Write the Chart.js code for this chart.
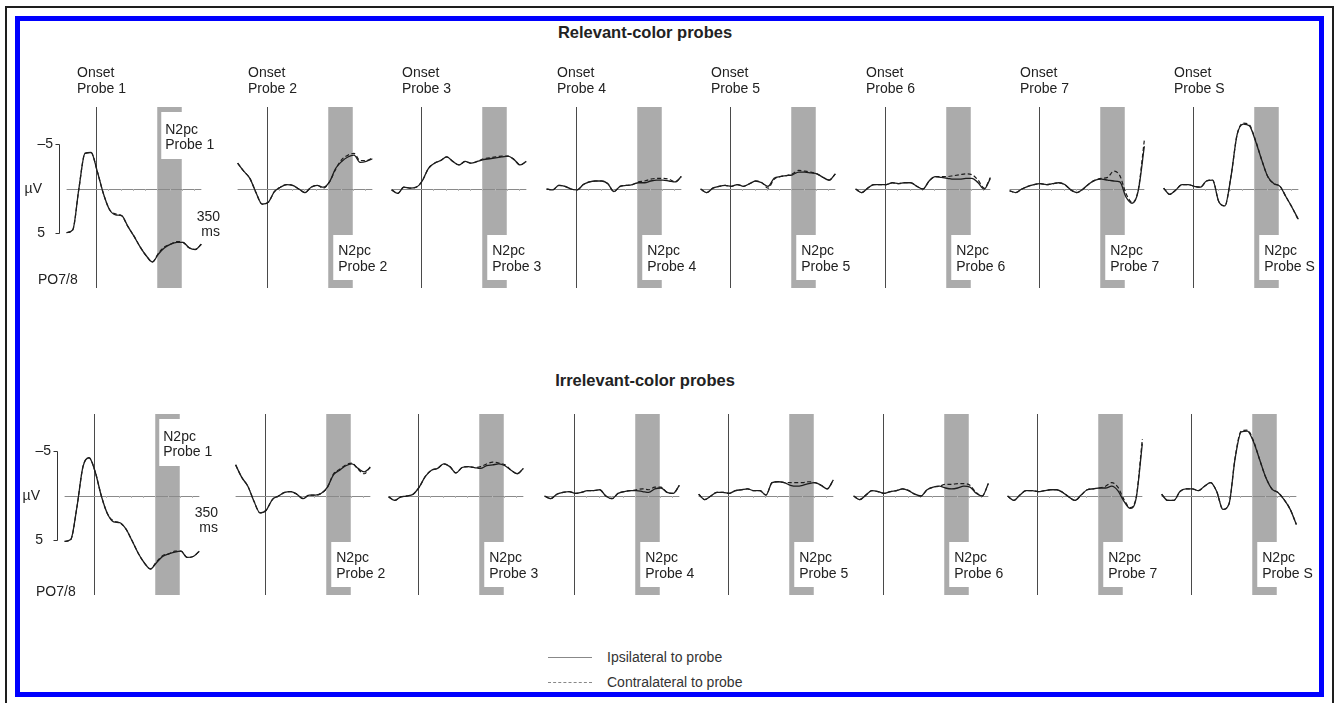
<!DOCTYPE html>
<html>
<head>
<meta charset="utf-8">
<script src="https://cdn.jsdelivr.net/npm/chart.js@4.4.1/dist/chart.umd.min.js"></script>
<style>
  html, body { margin:0; padding:0; background:#fff; width:1334px; height:703px; overflow:hidden;
    font-family:"Liberation Sans", Arial, sans-serif; color:#222; }
  .frame-outer { position:absolute; left:5px; top:6px; width:1329px; height:730px; border:2px solid #1e1e1e; box-sizing:border-box; z-index:5; pointer-events:none; }
  .frame-blue { position:absolute; left:15px; top:16px; width:1309px; height:681px; border:5px solid #0000ff; box-sizing:border-box; z-index:5; pointer-events:none; }
  .title { position:absolute; left:0; width:1290px; text-align:center; font-weight:bold; font-size:16.5px; line-height:20px; }
  canvas { position:absolute; z-index:1; }
  .leg-line { position:absolute; left:548px; width:44px; height:0; border-top:1px solid #888; }
  .leg-text { position:absolute; left:607px; font-size:14px; line-height:18px; color:#333; }
</style>
</head>
<body>
<div class="frame-outer"></div>
<div class="frame-blue"></div>
<div class="title" style="top:22px">Relevant-color probes</div>
<div class="title" style="top:370px">Irrelevant-color probes</div>
<div class="leg-line" style="top:657px"></div>
<div class="leg-text" style="top:648px">Ipsilateral to probe</div>
<div class="leg-line" style="top:682px; border-top-style:dashed"></div>
<div class="leg-text" style="top:673px">Contralateral to probe</div>

<script>
// time points (ms from probe onset) shared by every panel
const TIMES = [-120, -95, -70, -45, -20, 5, 30, 55, 80, 105, 130, 155, 180, 205, 230, 255, 280, 305, 330, 355, 380, 405, 430];
const PROBES = ['1', '2', '3', '4', '5', '6', '7', 'S'];
const N2PC_WINDOW = [250, 350];

// µV, negative up. one row per probe panel
const relevantIpsi = [
  [4.9, 4.6, 0.0, -4.0, -4.1, -2.0, 0.5, 2.3, 2.9, 3.0, 4.2, 5.3, 6.5, 7.5, 8.2, 7.3, 6.6, 6.2, 6.0, 6.0, 6.6, 6.8, 6.2],
  [-2.9, -2.0, -1.2, 0.4, 1.7, 1.5, 0.3, -0.2, -0.5, -0.4, 0.0, 0.4, -0.2, -0.4, -0.2, -0.8, -2.3, -3.1, -3.6, -3.8, -3.0, -3.1, -3.4],
  [0.1, 0.5, -0.2, -0.1, -0.2, -0.9, -2.3, -2.9, -3.2, -3.6, -3.1, -2.7, -3.1, -2.9, -3.1, -3.3, -3.4, -3.5, -3.6, -3.7, -3.3, -2.7, -3.1],
  [0.0, 0.1, -0.4, -0.3, 0.0, 0.1, -0.5, -0.8, -0.9, -0.9, -0.6, 0.3, -0.3, -0.4, -0.5, -0.7, -0.7, -0.9, -1.0, -1.0, -0.9, -0.8, -1.4],
  [0.0, 0.4, -0.1, -0.3, -0.4, -0.3, -0.5, -0.3, -0.6, -0.9, -0.7, -0.3, -1.2, -1.4, -1.5, -1.6, -1.9, -1.9, -1.8, -1.7, -1.3, -1.0, -1.7],
  [0.0, 0.4, -0.1, -0.5, -0.5, -0.5, -0.7, -0.6, -0.7, -0.7, -0.3, 0.0, -0.9, -1.4, -1.3, -1.2, -1.1, -1.1, -1.2, -1.2, -0.7, 0.0, -1.2],
  [0.2, 0.4, 0.0, -0.3, -0.5, -0.6, -0.5, -0.6, -0.7, -0.5, 0.1, 0.4, 0.0, -0.6, -1.0, -1.1, -1.0, -0.9, -0.8, 0.9, 1.6, 0.2, -4.8],
  [-0.1, 0.6, 0.1, -0.5, -0.5, -0.3, -0.2, -0.9, -1.0, 1.4, 1.9, -1.4, -6.1, -7.3, -7.1, -5.4, -3.3, -1.4, -0.6, -0.3, 0.9, 2.1, 3.4]
];
const relevantContra = [
  [4.9, 4.6, 0.0, -4.0, -4.1, -2.0, 0.5, 2.3, 2.8, 3.0, 4.2, 5.3, 6.5, 7.5, 8.2, 7.2, 6.5, 6.2, 5.9, 6.0, 6.6, 6.8, 6.2],
  [-2.9, -2.0, -1.2, 0.4, 1.7, 1.5, 0.3, -0.2, -0.5, -0.4, 0.0, 0.4, -0.2, -0.4, -0.1, -0.8, -2.2, -3.3, -3.8, -4.0, -3.2, -3.2, -3.5],
  [0.1, 0.5, -0.2, -0.1, -0.2, -0.9, -2.3, -2.9, -3.2, -3.6, -3.1, -2.7, -3.1, -2.9, -3.1, -3.4, -3.5, -3.6, -3.7, -3.7, -3.3, -2.7, -3.1],
  [0.0, 0.1, -0.4, -0.3, 0.0, 0.1, -0.5, -0.8, -0.9, -0.9, -0.6, 0.3, -0.3, -0.4, -0.5, -0.8, -0.9, -1.1, -1.2, -1.2, -1.1, -0.8, -1.4],
  [0.0, 0.4, -0.1, -0.3, -0.4, -0.3, -0.5, -0.3, -0.6, -0.9, -0.7, -0.1, -1.1, -1.4, -1.5, -1.7, -2.1, -2.0, -1.9, -1.7, -1.3, -1.0, -1.7],
  [0.0, 0.4, -0.1, -0.5, -0.5, -0.5, -0.7, -0.6, -0.7, -0.7, -0.3, 0.0, -0.9, -1.4, -1.4, -1.4, -1.5, -1.6, -1.7, -1.6, -1.0, -0.1, -1.3],
  [0.2, 0.4, 0.0, -0.3, -0.5, -0.6, -0.5, -0.6, -0.7, -0.5, 0.1, 0.4, 0.0, -0.6, -1.0, -1.2, -1.3, -2.0, -1.5, 0.5, 1.5, 0.1, -5.5],
  [-0.1, 0.6, 0.1, -0.5, -0.5, -0.3, -0.2, -0.9, -1.0, 1.4, 1.9, -1.4, -6.1, -7.4, -7.2, -5.5, -3.3, -1.4, -0.6, -0.3, 0.9, 2.1, 3.5]
];
const irrelevantIpsi = [
  [5.1, 4.9, 1.3, -3.3, -4.3, -2.7, 0.0, 2.0, 2.9, 3.0, 3.7, 5.0, 6.4, 7.5, 8.2, 7.5, 6.8, 6.5, 6.3, 6.2, 6.9, 6.8, 6.2],
  [-3.5, -2.1, -1.1, 0.6, 1.9, 1.6, 0.4, 0.0, -0.4, -0.5, -0.2, 0.3, -0.1, -0.1, -0.3, -1.0, -2.4, -2.9, -3.4, -3.6, -3.1, -2.7, -3.2],
  [0.1, 0.5, 0.1, 0.0, -0.2, -1.0, -2.2, -2.9, -3.1, -3.6, -3.3, -2.6, -3.2, -3.3, -3.2, -3.1, -3.4, -3.5, -3.6, -3.4, -2.9, -2.5, -3.1],
  [0.0, 0.3, -0.2, -0.4, -0.5, -0.3, -0.4, -0.6, -0.6, -0.7, 0.0, 0.3, -0.3, -0.5, -0.6, -0.6, -0.5, -0.4, -0.8, -0.9, -0.4, -0.3, -1.2],
  [-0.2, 0.4, 0.0, -0.4, -0.4, -0.3, -0.6, -0.7, -0.8, -0.6, -0.6, -0.1, -1.5, -1.6, -1.5, -1.2, -1.1, -1.2, -1.4, -1.5, -1.2, -0.8, -1.8],
  [0.0, 0.4, -0.1, -0.6, -0.5, -0.3, -0.5, -0.6, -0.8, -0.6, -0.2, 0.0, -0.7, -1.0, -1.1, -0.9, -0.8, -0.9, -1.1, -1.0, -0.3, 0.0, -1.4],
  [0.0, 0.5, -0.1, -0.6, -0.6, -0.5, -0.6, -0.7, -0.7, -0.4, 0.1, 0.5, -0.1, -0.7, -0.8, -0.9, -0.9, -1.1, -0.6, 0.6, 1.4, 0.2, -5.9],
  [-0.2, 0.5, 0.5, -0.5, -0.8, -0.8, -0.6, -1.1, -1.5, -0.5, 1.5, 0.9, -4.2, -7.2, -7.3, -6.1, -4.1, -2.1, -0.8, -0.4, 0.4, 1.5, 3.2]
];
const irrelevantContra = [
  [5.1, 4.9, 1.3, -3.3, -4.3, -2.7, 0.0, 2.0, 2.8, 3.0, 3.7, 5.0, 6.4, 7.5, 8.2, 7.4, 6.7, 6.5, 6.2, 6.2, 6.9, 6.8, 6.2],
  [-3.5, -2.1, -1.1, 0.6, 1.9, 1.6, 0.4, 0.0, -0.4, -0.5, -0.2, 0.3, -0.1, -0.1, -0.3, -1.0, -2.5, -3.0, -3.5, -3.7, -3.0, -2.5, -3.3],
  [0.1, 0.5, 0.1, 0.0, -0.2, -1.0, -2.2, -2.9, -3.1, -3.6, -3.3, -2.6, -3.2, -3.3, -3.2, -3.3, -3.6, -3.8, -3.7, -3.5, -2.9, -2.5, -3.1],
  [0.0, 0.3, -0.2, -0.4, -0.5, -0.3, -0.4, -0.6, -0.6, -0.7, 0.0, 0.3, -0.3, -0.5, -0.6, -0.7, -0.8, -0.7, -1.0, -1.0, -0.4, -0.3, -1.2],
  [-0.2, 0.4, 0.0, -0.4, -0.4, -0.3, -0.6, -0.7, -0.8, -0.6, -0.6, -0.1, -1.5, -1.6, -1.5, -1.5, -1.5, -1.5, -1.6, -1.5, -1.2, -0.8, -1.8],
  [0.0, 0.4, -0.1, -0.6, -0.5, -0.3, -0.5, -0.6, -0.8, -0.6, -0.2, 0.0, -0.7, -1.0, -1.1, -1.3, -1.3, -1.4, -1.4, -1.2, -0.4, 0.0, -1.4],
  [0.0, 0.5, -0.1, -0.6, -0.6, -0.5, -0.6, -0.7, -0.7, -0.4, 0.1, 0.5, -0.1, -0.7, -0.8, -0.9, -1.1, -1.5, -1.0, 0.4, 1.3, 0.1, -6.4],
  [-0.2, 0.5, 0.5, -0.5, -0.8, -0.8, -0.6, -1.1, -1.5, -0.5, 1.5, 0.9, -4.3, -7.3, -7.4, -6.2, -4.1, -2.1, -0.8, -0.4, 0.4, 1.5, 3.2]
];

// layout of the panel grid (px)
const ROWS = [
  { ipsi: relevantIpsi, contra: relevantContra, base: 189, onsets: [96, 267, 421, 576, 730, 885, 1039, 1193], showOnset: true, msDy: [28, 43], poDy: 91 },
  { ipsi: irrelevantIpsi, contra: irrelevantContra, base: 496, onsets: [94, 265, 418, 574, 728, 883, 1037, 1191], showOnset: false, msDy: [17, 32], poDy: 96 }
];
const PX_PER_MS = 0.245, PX_PER_UV = 8.9;
const T_MIN = -120, T_MAX = 430, V_MIN = -13, V_MAX = 11;
const PAD_L = 80, CANVAS_W = 212, PAD_T = 135, CANVAS_H = 240;
const FONT = '14px "Liberation Sans", Arial, sans-serif';

const panelDecor = {
  id: 'panelDecor',
  beforeDatasetsDraw(chart, args, o) {
    const {ctx, scales: {x, y}} = chart;
    const base = y.getPixelForValue(0);
    const x0 = x.getPixelForValue(0);
    const top = base - 82, bottom = base + 99;
    const gx0 = x.getPixelForValue(N2PC_WINDOW[0]), gx1 = x.getPixelForValue(N2PC_WINDOW[1]);
    ctx.save();
    ctx.fillStyle = '#ababab';
    ctx.fillRect(gx0, top, gx1 - gx0, bottom - top);
    ctx.fillStyle = '#fff';
    if (o.first) ctx.fillRect(gx0 + 4, base - 77, 70, 47);
    else ctx.fillRect(gx0 + 5, base + 46, 70, 45);

    // onset line
    ctx.strokeStyle = '#4a4a4a';
    ctx.lineWidth = 1;
    ctx.beginPath();
    ctx.moveTo(Math.round(x0) + 0.5, top);
    ctx.lineTo(Math.round(x0) + 0.5, bottom);
    ctx.stroke();

    // zero line with faint 50 ms ticks
    ctx.strokeStyle = '#8a8a8a';
    ctx.beginPath();
    ctx.moveTo(x.getPixelForValue(T_MIN), Math.round(base) + 0.5);
    ctx.lineTo(x.getPixelForValue(T_MAX), Math.round(base) + 0.5);
    ctx.stroke();
    ctx.strokeStyle = '#b5b5b5';
    ctx.beginPath();
    for (let t = 50; t <= 400; t += 50) {
      const px = Math.round(x.getPixelForValue(t)) + 0.5;
      ctx.moveTo(px, base);
      ctx.lineTo(px, base + 2);
    }
    ctx.stroke();
    ctx.restore();
  },
  afterDatasetsDraw(chart, args, o) {
    const {ctx, scales: {x, y}} = chart;
    const base = y.getPixelForValue(0);
    const x0 = x.getPixelForValue(0);
    const gx0 = x.getPixelForValue(N2PC_WINDOW[0]);
    ctx.save();
    ctx.font = FONT;
    ctx.fillStyle = '#222';
    ctx.textBaseline = 'middle';
    ctx.textAlign = 'left';
    if (o.showOnset) {
      ctx.fillText('Onset', x0 - 19, base - 116);
      ctx.fillText('Probe ' + o.probe, x0 - 19, base - 100);
    }
    if (o.first) {
      ctx.fillText('N2pc', gx0 + 8, base - 59);
      ctx.fillText('Probe ' + o.probe, gx0 + 8, base - 44);

      // µV scale bracket
      const bx = Math.round(x0 - 37) + 0.5;
      const yA = y.getPixelForValue(-5), yB = y.getPixelForValue(5);
      ctx.strokeStyle = '#333';
      ctx.lineWidth = 1;
      ctx.beginPath();
      ctx.moveTo(bx - 4, yA); ctx.lineTo(bx, yA); ctx.lineTo(bx, yB); ctx.lineTo(bx - 4, yB);
      ctx.stroke();
      ctx.textAlign = 'right';
      ctx.fillText('\u20135', x0 - 43, yA);
      ctx.fillText('\u00b5V', x0 - 54, base);
      ctx.fillText('5', x0 - 51, yB);
      ctx.fillText('350', x0 + 124, base + o.msDy[0]);
      ctx.fillText('ms', x0 + 124, base + o.msDy[1]);
      ctx.textAlign = 'left';
      ctx.fillText('PO7/8', x0 - 58, base + o.poDy);
    } else {
      ctx.fillText('N2pc', gx0 + 10, base + 62.5);
      ctx.fillText('Probe ' + o.probe, gx0 + 10, base + 78.5);
    }
    ctx.restore();
  }
};

function toPoints(vals) {
  return TIMES.map((t, i) => ({x: t, y: vals[i]}));
}

ROWS.forEach((row) => {
  row.onsets.forEach((onsetX, i) => {
    const canvas = document.createElement('canvas');
    canvas.width = CANVAS_W;
    canvas.height = CANVAS_H;
    canvas.style.width = CANVAS_W + 'px';
    canvas.style.height = CANVAS_H + 'px';
    canvas.style.left = (onsetX - PAD_L) + 'px';
    canvas.style.top = (row.base - PAD_T) + 'px';
    document.body.appendChild(canvas);

    new Chart(canvas, {
      type: 'line',
      data: {
        datasets: [
          { label: 'Ipsilateral to probe', data: toPoints(row.ipsi[i]), borderColor: '#1c1c1c', borderWidth: 1.3,
            pointRadius: 0, cubicInterpolationMode: 'monotone', clip: false },
          { label: 'Contralateral to probe', data: toPoints(row.contra[i]), borderColor: '#1c1c1c', borderWidth: 1.2,
            borderDash: [4, 2.5], pointRadius: 0, cubicInterpolationMode: 'monotone', clip: false }
        ]
      },
      options: {
        responsive: false,
        animation: false,
        devicePixelRatio: 1,
        events: [],
        layout: {
          padding: {
            left: PAD_L + T_MIN * PX_PER_MS,
            right: CANVAS_W - PAD_L - T_MAX * PX_PER_MS,
            top: PAD_T + V_MIN * PX_PER_UV,
            bottom: CANVAS_H - PAD_T - V_MAX * PX_PER_UV
          }
        },
        scales: {
          x: { type: 'linear', min: T_MIN, max: T_MAX, display: false },
          y: { min: V_MIN, max: V_MAX, reverse: true, display: false }
        },
        plugins: {
          legend: { display: false },
          tooltip: { enabled: false },
          panelDecor: { first: i === 0, probe: PROBES[i], showOnset: row.showOnset, msDy: row.msDy, poDy: row.poDy }
        }
      },
      plugins: [panelDecor]
    });
  });
});
</script>
</body>
</html>
